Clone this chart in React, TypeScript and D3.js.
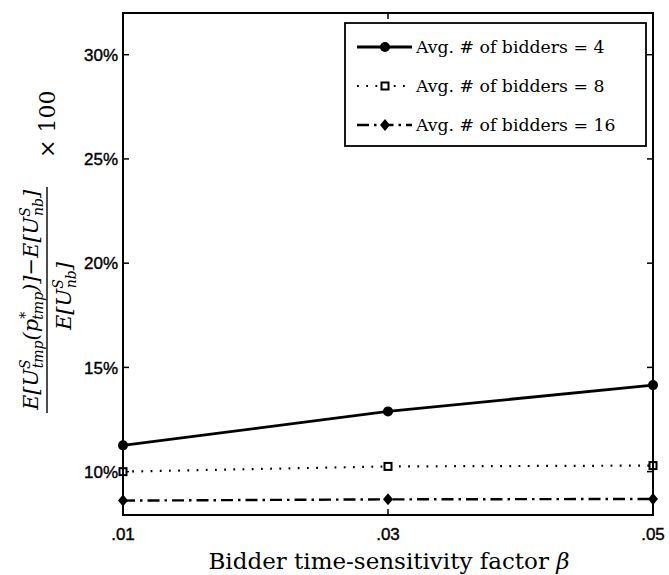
import React from "react";
import * as d3 from "d3";

const betas = [0.01, 0.03, 0.05];
const xTickLabels = [".01", ".03", ".05"];
const yTicks = [10, 15, 20, 25, 30];
const bidders4 = [11.26, 12.89, 14.15];
const bidders8 = [10.0, 10.25, 10.29];
const bidders16 = [8.61, 8.67, 8.69];
const legendLabels = ["Avg.  # of bidders = 4", "Avg.  # of bidders = 8", "Avg.  # of bidders = 16"];

const W = 669, H = 575;
const L = 123, R = 653, T = 13, B = 515;

export default function App() {
  const x = d3.scaleLinear().domain([0.01, 0.05]).range([L, R]);
  const y = d3.scaleLinear().domain([7.92, 32]).range([B, T]);
  const line = d3.line<number>().x((_, i) => x(betas[i])).y((d) => y(d));

  const series = [
    { data: bidders4, dash: undefined as string | undefined, width: 2.8, marker: "circle" },
    { data: bidders8, dash: "1.8,7.4", width: 2.2, marker: "square" },
    { data: bidders16, dash: "12,5,2.5,5", width: 2.4, marker: "diamond" },
  ];

  const marker = (kind: string, cx: number, cy: number, key: string) => {
    if (kind === "circle") return <circle key={key} cx={cx} cy={cy} r={5} fill="#000" />;
    if (kind === "square")
      return <rect key={key} x={cx - 3.5} y={cy - 3.5} width={7} height={7} fill="#fff" stroke="#000" strokeWidth={2} />;
    return <path key={key} d={`M${cx},${cy - 6}L${cx + 5},${cy}L${cx},${cy + 6}L${cx - 5},${cy}Z`} fill="#000" />;
  };

  const tickFont = { fontFamily: "Liberation Sans, Arial, sans-serif", fontSize: 17, stroke: "#000", strokeWidth: 0.4 };
  const serif = "DejaVu Serif, serif";

  return (
    <svg width={W} height={H} style={{ position: "absolute", left: 0, top: 0, background: "#fff" }}>
      <rect x={0} y={0} width={W} height={H} fill="#fff" />
      {yTicks.map((t) => (
        <g key={"y" + t}>
          <line x1={L} x2={L + 6} y1={y(t)} y2={y(t)} stroke="#000" strokeWidth={1.5} />
          <line x1={R} x2={R - 6} y1={y(t)} y2={y(t)} stroke="#000" strokeWidth={1.5} />
          <text x={L - 5} y={y(t)} dy="0.36em" textAnchor="end" {...tickFont}>{t}%</text>
        </g>
      ))}
      {betas.map((b, i) => (
        <g key={"x" + i}>
          <line x1={x(b)} x2={x(b)} y1={B} y2={B - 6} stroke="#000" strokeWidth={1.5} />
          <line x1={x(b)} x2={x(b)} y1={T} y2={T + 6} stroke="#000" strokeWidth={1.5} />
          <text x={x(b)} y={540} textAnchor="middle" {...tickFont}>{xTickLabels[i]}</text>
        </g>
      ))}
      {series.map((s, si) => (
        <g key={"s" + si}>
          <path d={line(s.data) || ""} fill="none" stroke="#000" strokeWidth={s.width} strokeDasharray={s.dash} />
          {s.data.map((v, i) => marker(s.marker, x(betas[i]), y(v), `m${si}-${i}`))}
        </g>
      ))}
      <rect x={L} y={T} width={R - L} height={B - T} fill="none" stroke="#000" strokeWidth={2} />
      <rect x={345} y={23} width={301} height={123} fill="#fff" stroke="#000" strokeWidth={1.8} />
      {series.map((s, i) => {
        const ly = 47 + i * 39;
        return (
          <g key={"l" + i}>
            <line x1={357} x2={412} y1={ly} y2={ly} stroke="#000" strokeWidth={s.width} strokeDasharray={s.dash} />
            {marker(s.marker, 385, ly, "lm" + i)}
            <text x={416} y={ly} dy="0.36em" fontFamily={serif} fontSize={17.3}>{legendLabels[i]}</text>
          </g>
        );
      })}
      <text x={389} y={569} textAnchor="middle" fontFamily={serif} fontSize={23}>
        Bidder time-sensitivity factor <tspan fontStyle="italic">β</tspan>
      </text>
      <g transform="translate(47,300) rotate(-90)" fontFamily={serif}>
        <text x={0} y={-9} textAnchor="middle" fontStyle="italic" fontSize={21}>
          E[U<tspan fontSize={14} dy={-8}>S</tspan><tspan fontSize={14} dx={-9} dy={13}>tmp</tspan>
          <tspan dy={-5}>(p</tspan><tspan fontSize={14} dy={-8}>*</tspan><tspan fontSize={14} dx={-8} dy={13}>tmp</tspan>
          <tspan dy={-5}>)]</tspan><tspan fontStyle="normal">−</tspan>E[U<tspan fontSize={14} dy={-8}>S</tspan>
          <tspan fontSize={14} dx={-9} dy={13}>nb</tspan><tspan dy={-5}>]</tspan>
        </text>
        <line x1={-113} x2={113} y1={0} y2={0} stroke="#000" strokeWidth={1.4} />
        <text x={4} y={24} textAnchor="middle" fontStyle="italic" fontSize={21}>
          E[U<tspan fontSize={14} dy={-8}>S</tspan><tspan fontSize={14} dx={-9} dy={13}>nb</tspan><tspan dy={-5}>]</tspan>
        </text>
        <text x={142} y={0} dy="0.35em" fontSize={22}>× 100</text>
      </g>
    </svg>
  );
}
